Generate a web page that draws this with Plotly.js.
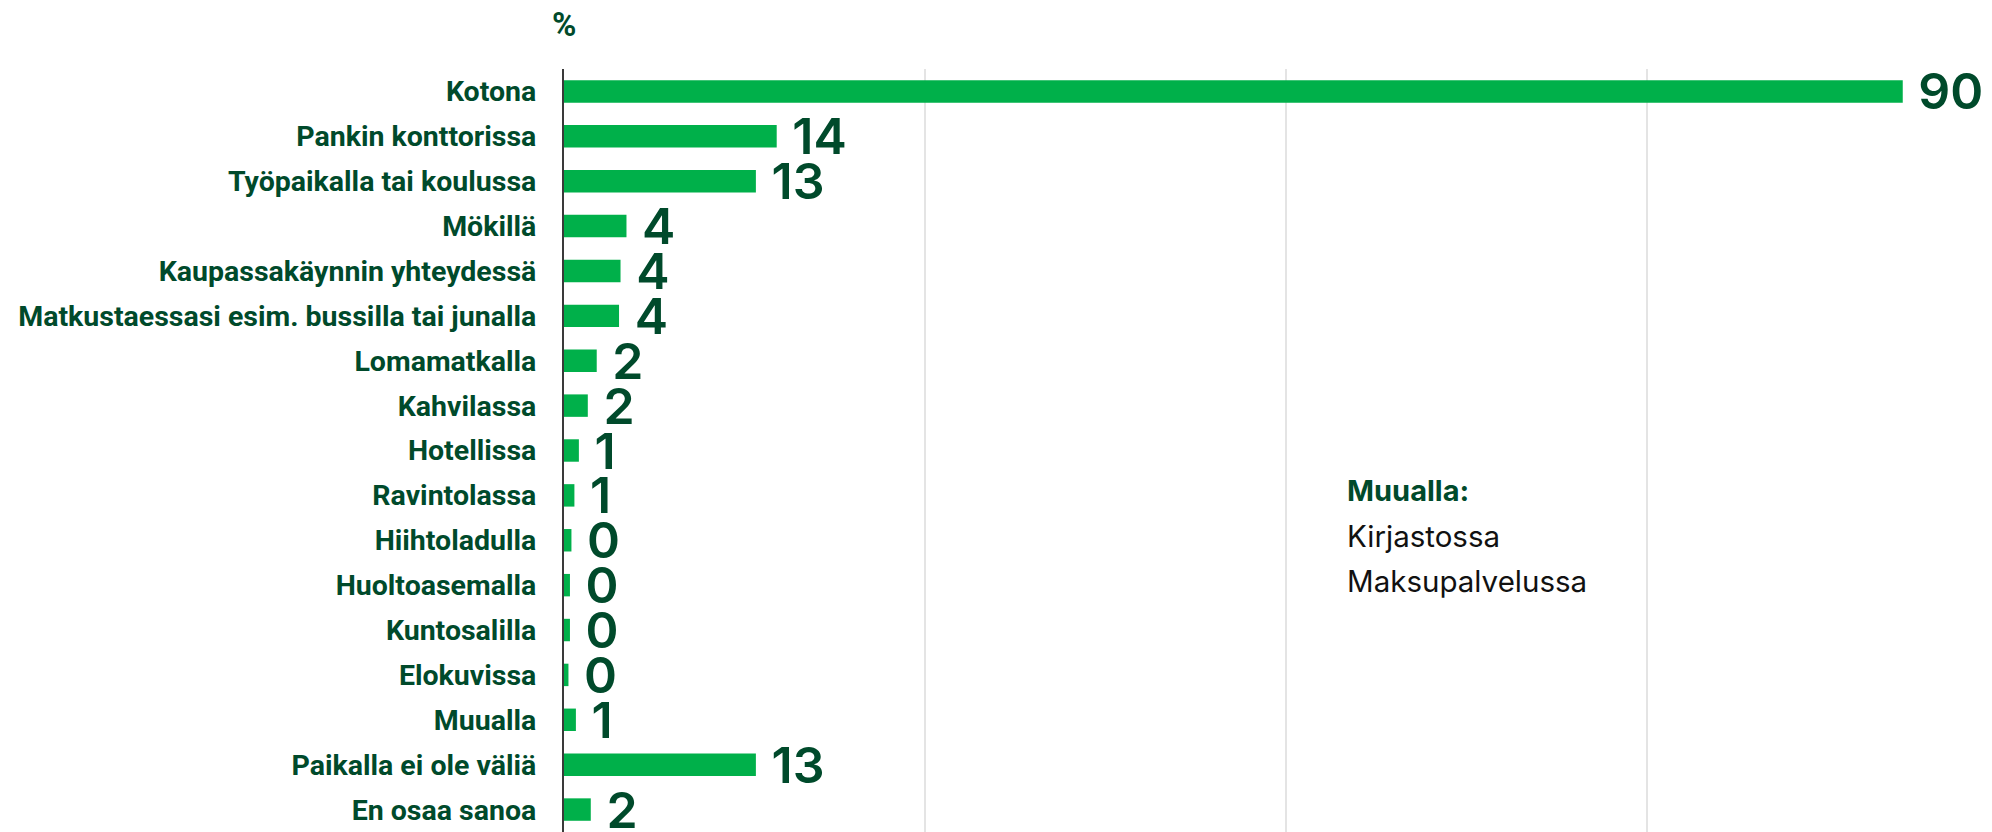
<!DOCTYPE html>
<html>
<head>
<meta charset="utf-8">
<script src="https://cdn.plot.ly/plotly-3.0.1.min.js"></script>
<style>
  html, body { margin: 0; padding: 0; background: #ffffff; }
  #chart { width: 1992px; height: 832px; }
</style>
</head>
<body>
<div id="chart"></div>
<script>
// Categories (top to bottom)
const categories = [
  "Kotona",
  "Pankin konttorissa",
  "Työpaikalla tai koulussa",
  "Mökillä",
  "Kaupassakäynnin yhteydessä",
  "Matkustaessasi esim. bussilla tai junalla",
  "Lomamatkalla",
  "Kahvilassa",
  "Hotellissa",
  "Ravintolassa",
  "Hiihtoladulla",
  "Huoltoasemalla",
  "Kuntosalilla",
  "Elokuvissa",
  "Muualla",
  "Paikalla ei ole väliä",
  "En osaa sanoa"
];
// Bar lengths (%)
const values = [90, 14.3, 12.9, 4.2, 3.8, 3.7, 2.2, 1.6, 1.0, 0.7, 0.5, 0.4, 0.4, 0.3, 0.8, 12.9, 1.8];
// Printed value labels
const valueLabels = ["90", "14", "13", "4", "4", "4", "2", "2", "1", "1", "0", "0", "0", "0", "1", "13", "2"];
// Side note texts
const noteTitle = "Muualla:";
const noteItems = ["Kirjastossa", "Maksupalvelussa"];
const unitLabel = "%";

const darkGreen = "#004a2b";
const barGreen = "#00b04a";

const W = 1992, H = 832;
const mL = 564, mR = 0, mT = 69, mB = 0;
const plotW = W - mL - mR, plotH = H - mT - mB;
const xMax = 96;
const gridStep = 24.26;

function py(pixelY) { return 1 - (pixelY - mT) / plotH; }
function px(pixelX) { return (pixelX - mL) / plotW; }

const trace = {
  type: "bar",
  orientation: "h",
  y: categories,
  x: values,
  marker: { color: barGreen },
  text: valueLabels.map(s => "\u00a0" + s),
  textposition: "outside",
  constraintext: "none",
  cliponaxis: false,
  textfont: { family: "Inter, Roboto, sans-serif", size: 50, color: darkGreen, weight: 600 },
  hoverinfo: "skip"
};

const annotations = [
  {
    text: unitLabel, xref: "paper", yref: "paper", x: 0, y: py(24),
    xanchor: "center", yanchor: "middle", showarrow: false,
    font: { family: "Roboto, sans-serif", size: 33, color: darkGreen, weight: 700 }
  },
  {
    text: noteTitle, xref: "paper", yref: "paper", x: px(1345), y: py(490),
    xanchor: "left", yanchor: "middle", showarrow: false,
    font: { family: "Inter, Roboto, sans-serif", size: 29, color: darkGreen, weight: 700 }
  }
];
const itemY = [536, 581];
noteItems.forEach((t, i) => {
  annotations.push({
    text: t, xref: "paper", yref: "paper", x: px(1345), y: py(itemY[i]),
    xanchor: "left", yanchor: "middle", showarrow: false,
    font: { family: "Inter, Roboto, sans-serif", size: 29.5, color: "#111111", weight: 400 }
  });
});

const layout = {
  width: W, height: H,
  margin: { l: mL, r: mR, t: mT, b: mB, pad: 0 },
  paper_bgcolor: "#ffffff",
  plot_bgcolor: "#ffffff",
  showlegend: false,
  bargap: 0.5,
  xaxis: {
    range: [0, xMax],
    tickvals: [gridStep, gridStep * 2, gridStep * 3],
    showticklabels: false,
    showgrid: true,
    gridcolor: "#e4e4e4",
    gridwidth: 2,
    zeroline: false,
    showline: false,
    fixedrange: true
  },
  yaxis: {
    type: "category",
    autorange: "reversed",
    showline: true,
    linecolor: "#3a3a3a",
    linewidth: 2,
    showgrid: false,
    zeroline: false,
    ticks: "",
    ticklabelstandoff: 20,
    tickfont: { family: "Roboto, sans-serif", size: 28.5, color: darkGreen, weight: 700 },
    fixedrange: true
  },
  annotations: annotations
};

Plotly.newPlot("chart", [trace], layout, { displayModeBar: false, staticPlot: true });
</script>
</body>
</html>
